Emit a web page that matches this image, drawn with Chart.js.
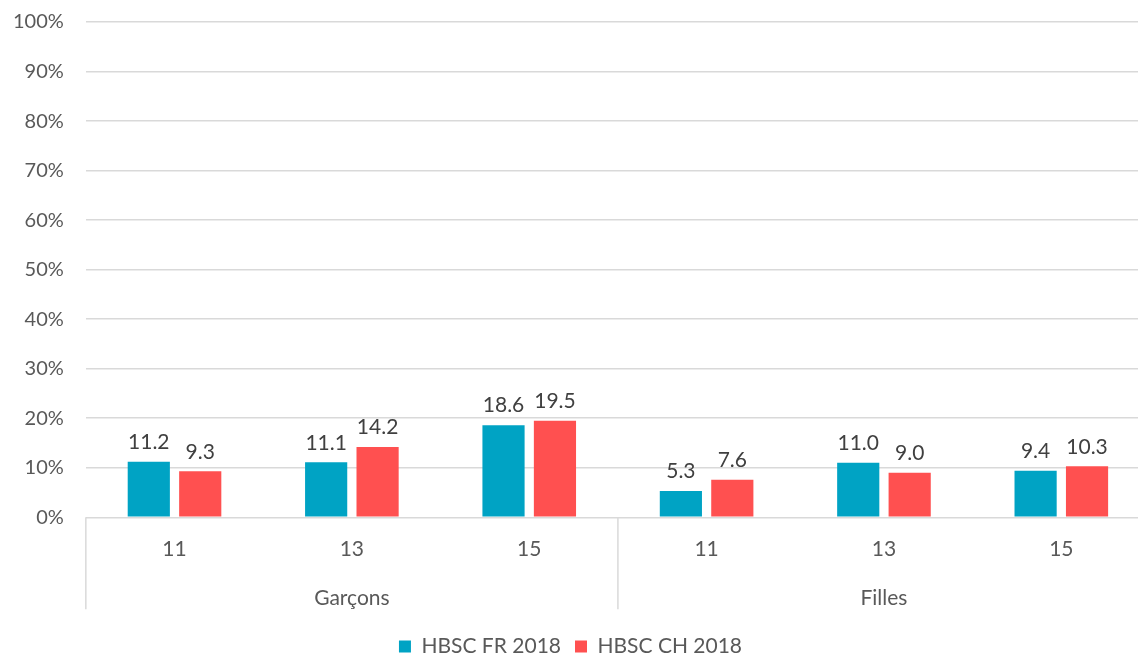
<!DOCTYPE html>
<html>
<head>
<meta charset="utf-8">
<script src="https://cdn.jsdelivr.net/npm/chart.js@4"></script>
<style>
  html, body { margin: 0; padding: 0; overflow: hidden; background: #fff; }
  #wrap { width: 1150px; height: 679px; margin-top: -12px; }
</style>
</head>
<body>
<div id="wrap"><canvas id="chart"></canvas></div>
<script>
// valeurs
const ages = ['11', '13', '15', '11', '13', '15'];
const groups = ['Garçons', 'Filles'];
const frValues = [11.2, 11.1, 18.6, 5.3, 11.0, 9.4];
const chValues = [9.3, 14.2, 19.5, 7.6, 9.0, 10.3];
const seriesNames = ['HBSC FR 2018', 'HBSC CH 2018'];

const FONT = 'Lato, "Open Sans", sans-serif';
const TEXT = '#595959';

// étiquettes sur 2 niveaux : âge puis sexe (centré sur le 2e âge de chaque groupe)
const labels = ages.map((a, i) => [a, i % 3 === 1 ? groups[Math.floor(i / 3)] : '']);

// valeurs au-dessus des barres
const valueLabels = {
    id: 'valueLabels',
    afterDatasetsDraw(chart) {
        const ctx = chart.ctx;
        ctx.save();
        ctx.font = '21px ' + FONT;
        ctx.fillStyle = '#404040';
        ctx.textAlign = 'center';
        ctx.textBaseline = 'bottom';
        chart.data.datasets.forEach((ds, i) => {
            chart.getDatasetMeta(i).data.forEach((bar, j) => {
                ctx.fillText(ds.data[j].toFixed(1), bar.x, bar.y - 9);
            });
        });
        ctx.restore();
    }
};

// séparateurs verticaux de l'axe des catégories
const groupLines = {
    id: 'groupLines',
    afterDraw(chart) {
        const x = chart.scales.x;
        const ctx = chart.ctx;
        const bottom = chart.chartArea.bottom;
        const mid = (x.getPixelForTick(2) + x.getPixelForTick(3)) / 2;
        ctx.save();
        ctx.strokeStyle = '#d9d9d9';
        ctx.lineWidth = 1.5;
        [x.left, mid, x.right].forEach(px => {
            ctx.beginPath();
            ctx.moveTo(px, bottom);
            ctx.lineTo(px, bottom + 92);
            ctx.stroke();
        });
        ctx.restore();
    }
};

new Chart(document.getElementById('chart'), {
    type: 'bar',
    data: {
        labels: labels,
        datasets: [
            { label: seriesNames[0], data: frValues, backgroundColor: '#00A3C4' },
            { label: seriesNames[1], data: chValues, backgroundColor: '#FF5050' }
        ]
    },
    options: {
        responsive: true,
        maintainAspectRatio: false,
        animation: false,
        categoryPercentage: 0.58,
        barPercentage: 0.82,
        layout: { padding: { top: 0, right: 0, left: -9, bottom: 0 } },
        scales: {
            y: {
                min: 0,
                max: 100,
                ticks: {
                    stepSize: 10,
                    padding: 22,
                    color: TEXT,
                    font: { family: FONT, size: 20 },
                    callback: v => v + '%'
                },
                grid: { color: '#d9d9d9', lineWidth: 1.5, drawTicks: false },
                border: { display: false }
            },
            x: {
                grid: { display: false },
                border: { display: false },
                ticks: {
                    color: TEXT,
                    padding: -1,
                    maxRotation: 0,
                    font: { family: FONT, size: 21, lineHeight: 2.35 }
                }
            }
        },
        plugins: {
            legend: {
                position: 'bottom',
                labels: {
                    boxWidth: 12,
                    boxHeight: 12,
                    padding: 14,
                    color: TEXT,
                    font: { family: FONT, size: 21 }
                }
            },
            tooltip: { enabled: false }
        }
    },
    plugins: [valueLabels, groupLines]
});
</script>
</body>
</html>
